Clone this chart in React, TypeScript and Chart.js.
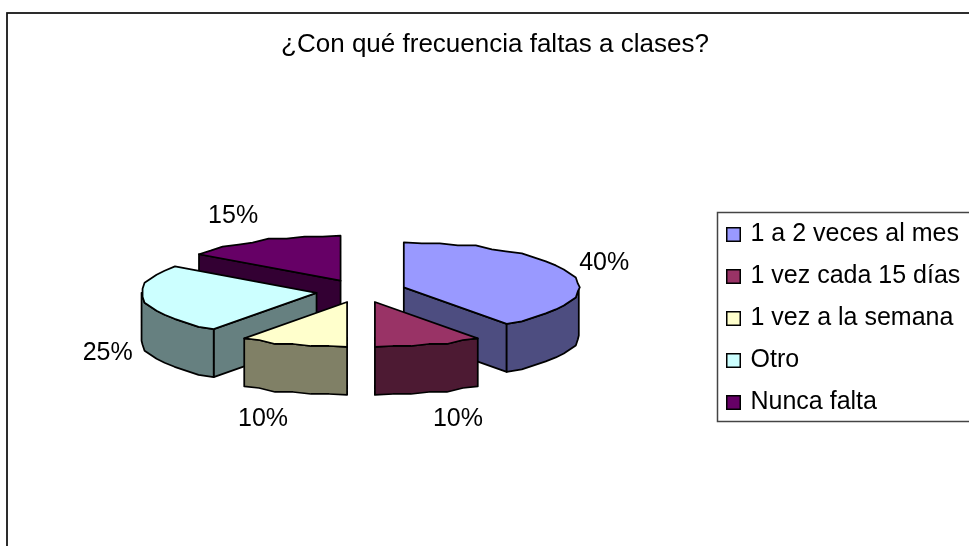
import React, { useEffect, useRef } from "react";
import { Chart, registerables } from "chart.js";

Chart.register(...registerables);

const titleText = "¿Con qué frecuencia faltas a clases?";
const categories = ["1 a 2 veces al mes", "1 vez cada 15 días", "1 vez a la semana", "Otro", "Nunca falta"];
const values = [40, 10, 10, 25, 15];
const colors = ["#9999FF", "#993366", "#FFFFCC", "#CCFFFF", "#660066"];

const FONT = '"Liberation Sans", Arial, sans-serif';
const TILT = 0.257;
const DEPTH = 48;
const RADIUS = 175;
const OFFSET = 180; // ArcElement translates by offset / 4
const LINE = 1.75;
const CANVAS_LEFT = 6;
const CANVAS_TOP = 12;
const CENTER = { x: 355, y: 279 };
const LEGEND_POS = { left: 706, top: 192.5 };
const LEGEND_FRAME = { dx: 5, dy: 7, w: 400, h: 209 };
const TITLE_LEFT = 10;
const SNAP = 2;
const ARC_STEP = (6 * Math.PI) / 180;
const labelNudge = [
  [34, -10],
  [29, 74],
  [-30, 74],
  [-36, 53],
  [-28, -25],
];

function halve(hex: string) {
  const n = parseInt(hex.slice(1), 16);
  const h = (v: number) => Math.round(v / 2);
  return `rgb(${h((n >> 16) & 255)},${h((n >> 8) & 255)},${h(n & 255)})`;
}

function swatch(color: string) {
  const c = document.createElement("canvas");
  c.width = 15;
  c.height = 18;
  const g = c.getContext("2d") as CanvasRenderingContext2D;
  g.fillStyle = color;
  g.fillRect(1, 3, 13, 13);
  g.strokeStyle = "#000";
  g.lineWidth = 1.5;
  g.strokeRect(0.75, 2.75, 13.5, 13.5);
  return c;
}

// The outline of a rim is a coarse polyline, as in the low-resolution original.
function rimPoints(cx: number, cy: number, R: number, a0: number, a1: number) {
  const pts: number[][] = [[cx + R * Math.cos(a0), cy + R * Math.sin(a0) * TILT]];
  const n = Math.max(1, Math.round((a1 - a0) / ARC_STEP));
  for (let k = 1; k < n; k++) {
    const a = a0 + ((a1 - a0) * k) / n;
    pts.push([
      Math.round((R * Math.cos(a)) / SNAP) * SNAP + cx,
      Math.round((R * Math.sin(a) * TILT) / SNAP) * SNAP + cy,
    ]);
  }
  pts.push([cx + R * Math.cos(a1), cy + R * Math.sin(a1) * TILT]);
  return pts;
}

const pie3d = {
  id: "pie3d",
  afterLayout(chart: any) {
    chart.legend.left = LEGEND_POS.left;
    chart.legend.top = LEGEND_POS.top;
    chart.titleBlock.left = TITLE_LEFT;
    const w = 340;
    const h = 200;
    Object.assign(chart.chartArea, {
      left: CENTER.x - w,
      right: CENTER.x + w,
      top: CENTER.y - h,
      bottom: CENTER.y + h,
      width: 2 * w,
      height: 2 * h,
    });
  },
  beforeDraw(chart: any) {
    const { ctx, width, height } = chart;
    ctx.save();
    ctx.fillStyle = "#fff";
    ctx.fillRect(0, 0, width, height);
    ctx.strokeStyle = "#111";
    ctx.lineWidth = LINE;
    ctx.strokeRect(1, 1, width - 2, height - 2);
    ctx.restore();
  },
  beforeDatasetDraw(chart: any, args: any) {
    const { ctx } = chart;
    const meta = args.meta;
    const slices = meta.data.map((el: any, i: number) => {
      const mid = (el.startAngle + el.endAngle) / 2;
      const off = (el.options.offset || 0) / 4;
      return {
        el,
        i,
        mid,
        cx: el.x + Math.cos(mid) * off,
        cy: el.y + Math.sin(mid) * off * TILT,
      };
    });
    const pt = (s: any, a: number, r: number) => [
      s.cx + r * Math.cos(a),
      s.cy + r * Math.sin(a) * TILT,
    ];
    ctx.save();
    ctx.lineWidth = LINE;
    ctx.strokeStyle = "#000";
    ctx.lineJoin = "round";
    const painter = [...slices].sort((a, b) => Math.sin(a.mid) - Math.sin(b.mid));
    for (const s of painter) {
      const { startAngle: a0, endAngle: a1, outerRadius: R, options } = s.el;
      const base = options.backgroundColor;
      const side = halve(base);
      const wall = (ang: number) => {
        const p = pt(s, ang, R);
        ctx.beginPath();
        ctx.moveTo(s.cx, s.cy);
        ctx.lineTo(p[0], p[1]);
        ctx.lineTo(p[0], p[1] + DEPTH);
        ctx.lineTo(s.cx, s.cy + DEPTH);
        ctx.closePath();
        ctx.fillStyle = side;
        ctx.fill();
        ctx.stroke();
      };
      // a radial cut faces the viewer depending on its side of the wedge
      if (Math.cos(a0) < -1e-6) wall(a0);
      if (Math.cos(a1) > 1e-6) wall(a1);
      // outer rim: only the part on the near half of the ellipse
      const from = Math.max(a0, 0);
      const to = Math.min(a1, Math.PI);
      if (to > from) {
        const rim = rimPoints(s.cx, s.cy, R, from, to);
        ctx.beginPath();
        rim.forEach((p, k) => (k ? ctx.lineTo(p[0], p[1]) : ctx.moveTo(p[0], p[1])));
        [...rim].reverse().forEach((p) => ctx.lineTo(p[0], p[1] + DEPTH));
        ctx.closePath();
        ctx.fillStyle = side;
        ctx.fill();
        ctx.stroke();
      }
      // top face
      ctx.beginPath();
      ctx.moveTo(s.cx, s.cy);
      rimPoints(s.cx, s.cy, R, a0, a1).forEach((p) => ctx.lineTo(p[0], p[1]));
      ctx.closePath();
      ctx.fillStyle = base;
      ctx.fill();
      ctx.stroke();
    }
    // percentage labels
    ctx.fillStyle = "#000";
    ctx.font = `25px ${FONT}`;
    ctx.textAlign = "center";
    ctx.textBaseline = "middle";
    const total = values.reduce((a, b) => a + b, 0);
    for (const s of slices) {
      const p = pt(s, s.mid, s.el.outerRadius);
      const [nx, ny] = labelNudge[s.i];
      ctx.fillText(`${Math.round((values[s.i] / total) * 100)}%`, p[0] + nx, p[1] + ny);
    }
    ctx.restore();
    return false;
  },
  afterDraw(chart: any) {
    const { ctx, legend } = chart;
    ctx.save();
    ctx.strokeStyle = "#444";
    ctx.lineWidth = 1.5;
    ctx.strokeRect(
      Math.round(legend.left + LEGEND_FRAME.dx) + 0.5,
      Math.round(legend.top + LEGEND_FRAME.dy) + 0.5,
      LEGEND_FRAME.w,
      LEGEND_FRAME.h,
    );
    ctx.restore();
  },
};

export default function App() {
  const ref = useRef<HTMLCanvasElement>(null);
  useEffect(() => {
    const baseLabels = (Chart as any).overrides.doughnut.plugins.legend.labels.generateLabels;
    const chart = new Chart(ref.current as HTMLCanvasElement, {
      type: "pie",
      data: {
        labels: categories,
        datasets: [
          {
            data: values,
            backgroundColor: colors,
            borderColor: "#000",
            borderWidth: LINE,
            offset: OFFSET,
            radius: RADIUS,
          } as any,
        ],
      },
      options: {
        responsive: false,
        animation: false,
        devicePixelRatio: 1,
        events: [],
        plugins: {
          title: {
            display: true,
            text: titleText,
            color: "#000",
            font: { family: FONT, size: 26, weight: "normal" },
            padding: { top: 17.5, bottom: 10 },
          },
          legend: {
            display: true,
            position: "right",
            align: "start",
            labels: {
              usePointStyle: true,
              boxWidth: 9,
              boxHeight: 9,
              padding: 17,
              color: "#000",
              font: { family: FONT, size: 25 },
              generateLabels: (c: any) =>
                baseLabels(c).map((item: any, i: number) => ({ ...item, pointStyle: swatch(colors[i]) })),
            },
          },
          tooltip: { enabled: false },
        },
      },
      plugins: [pie3d as any],
    });
    return () => chart.destroy();
  }, []);
  return (
    <div style={{ position: "fixed", left: 0, top: 0, width: 969, height: 546, overflow: "hidden", background: "#fff" }}>
      <canvas
        ref={ref}
        width={968}
        height={540}
        style={{ position: "absolute", left: CANVAS_LEFT, top: CANVAS_TOP, width: 968, height: 540 }}
      />
    </div>
  );
}
